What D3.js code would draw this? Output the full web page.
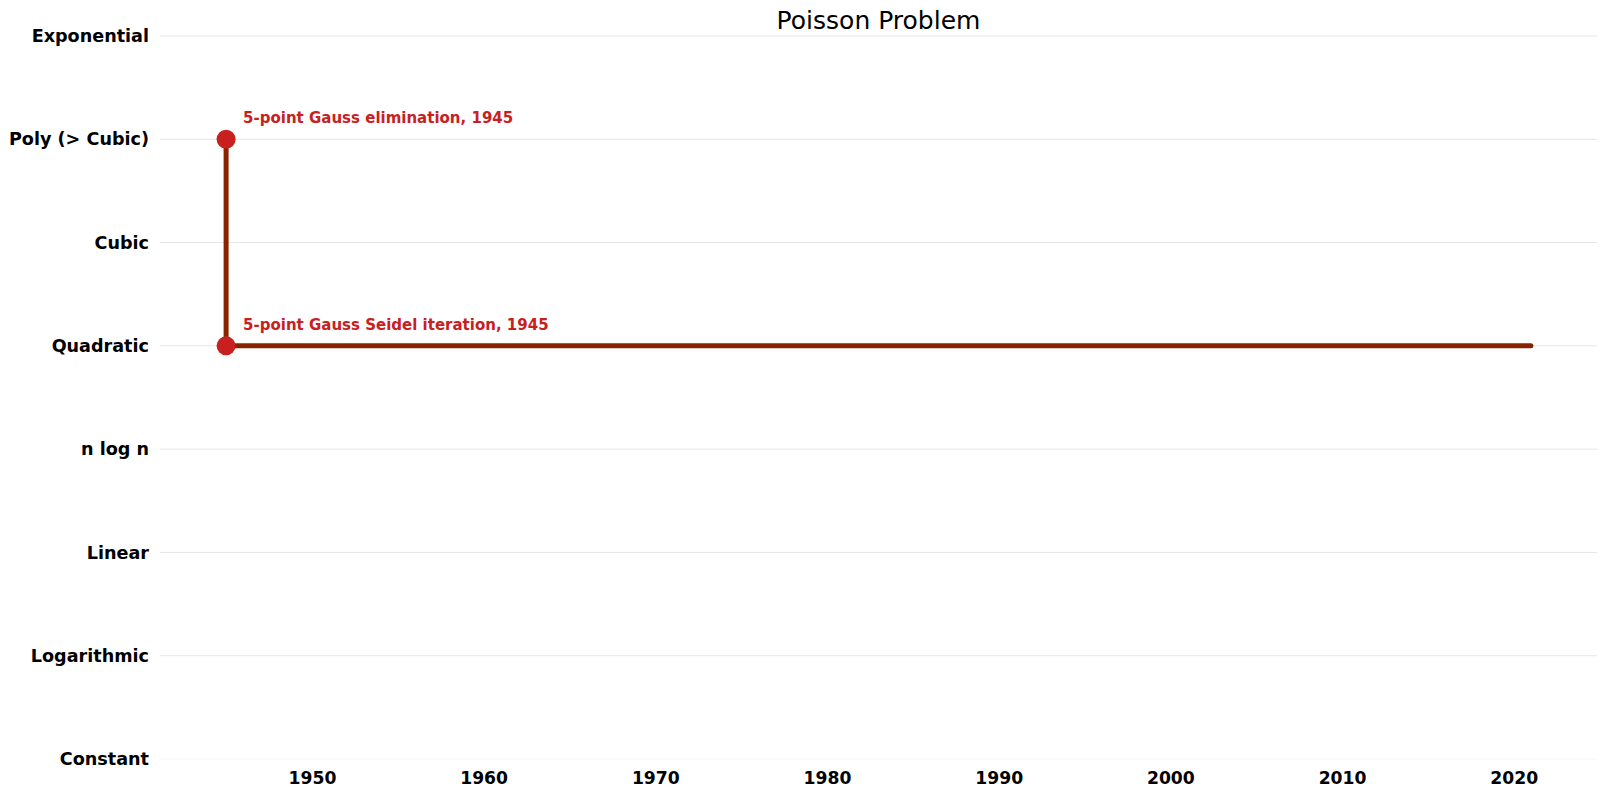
<!DOCTYPE html>
<html>
<head>
<meta charset="utf-8">
<script src="https://cdn.jsdelivr.net/npm/d3@7"></script>
<style>
  html, body { margin: 0; padding: 0; background: #fff; }
  svg { display: block; font-family: "DejaVu Sans", sans-serif; }
</style>
</head>
<body>
<svg id="chart" width="1605" height="795"></svg>
<script>
const title = "Poisson Problem";
const complexityClasses = ["Constant", "Logarithmic", "Linear", "n log n", "Quadratic", "Cubic", "Poly (> Cubic)", "Exponential"];
const yearTicks = [1950, 1960, 1970, 1980, 1990, 2000, 2010, 2020];
const yearDomain = [1941.15, 2024.85];
// step line of best known complexity over time
const lineYears = [1945, 1945, 2021];
const lineClasses = ["Poly (> Cubic)", "Quadratic", "Quadratic"];
// labelled algorithms
const algoNames = ["5-point Gauss elimination", "5-point Gauss Seidel iteration"];
const algoYears = [1945, 1945];
const algoClasses = ["Poly (> Cubic)", "Quadratic"];

(function () {
const svg = d3.select("#chart");
const mLeft = 160, mRight = 1597, mTop = 36, mBottom = 759;

const x = d3.scaleLinear().domain(yearDomain).range([mLeft, mRight]);
const y = d3.scalePoint().domain(complexityClasses).range([mBottom, mTop]);

// gridlines
svg.append("g").selectAll("line").data(complexityClasses).join("line")
  .attr("x1", mLeft).attr("x2", mRight)
  .attr("y1", d => y(d)).attr("y2", d => y(d))
  .attr("stroke", d => d === "Constant" ? "#f6f6f6" : "#e6e6e6")
  .attr("stroke-width", 1);

// y axis labels
const yAxis = d3.axisLeft(y).tickSize(0).tickPadding(11);
const gy = svg.append("g").attr("transform", `translate(${mLeft},0)`).call(yAxis);
gy.select(".domain").remove();
gy.selectAll("text")
  .attr("font-family", "DejaVu Sans, sans-serif")
  .attr("font-size", 17.6).attr("font-weight", "bold").attr("fill", "#000");

// x axis labels
const xAxis = d3.axisBottom(x).tickValues(yearTicks).tickFormat(d3.format("d")).tickSize(0).tickPadding(13);
const gx = svg.append("g").attr("transform", `translate(0,${mBottom})`).call(xAxis);
gx.select(".domain").remove();
gx.selectAll("text")
  .attr("font-family", "DejaVu Sans, sans-serif")
  .attr("font-size", 17.2).attr("font-weight", "bold").attr("fill", "#000");

// title
svg.append("text")
  .attr("x", (mLeft + mRight) / 2).attr("y", 29)
  .attr("text-anchor", "middle")
  .attr("font-size", 25).attr("fill", "#000")
  .text(title);

// step line
const pts = lineYears.map((yr, i) => [x(yr), y(lineClasses[i])]);
svg.append("path")
  .attr("d", d3.line()(pts))
  .attr("fill", "none")
  .attr("stroke", "#882200")
  .attr("stroke-width", 5)
  .attr("stroke-linecap", "round")
  .attr("stroke-linejoin", "round");

// points
svg.append("g").selectAll("circle").data(algoNames).join("circle")
  .attr("cx", (d, i) => x(algoYears[i]))
  .attr("cy", (d, i) => y(algoClasses[i]))
  .attr("r", 9.5)
  .attr("fill", "#c8201e");

// labels
svg.append("g").selectAll("text").data(algoNames).join("text")
  .attr("x", (d, i) => x(algoYears[i]) + 17)
  .attr("y", (d, i) => y(algoClasses[i]) - 16)
  .attr("font-size", 15).attr("font-weight", "bold")
  .attr("fill", "#c8201e")
  .text((d, i) => `${d}, ${algoYears[i]}`);
})();
</script>
</body>
</html>
